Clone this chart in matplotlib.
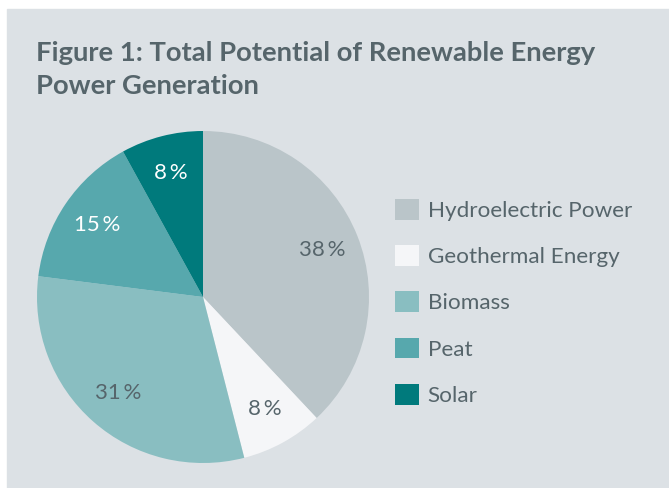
import matplotlib
matplotlib.use("Agg")
import matplotlib.pyplot as plt
from matplotlib.patches import Rectangle

labels = ["Hydroelectric Power", "Geothermal Energy", "Biomass", "Peat", "Solar"]
shares = [38, 8, 31, 15, 8]
colors = ["#bac5c9", "#f5f6f8", "#89bec1", "#57a8ad", "#007a7c"]
pct_colors = ["#56656b", "#56656b", "#56656b", "white", "white"]

TEXT = "#56656b"
PANEL = "#dce1e5"
plt.rcParams["font.family"] = ["Lato", "DejaVu Sans"]

W, H = 669, 488
fig = plt.figure(figsize=(W / 100, H / 100), dpi=100, facecolor="white")
fig.patches.append(Rectangle((7 / W, 0), 1 - 7 / W, 1 - 9 / H,
                             transform=fig.transFigure, color=PANEL, zorder=-5))

fig.text(36 / W, 1 - 41 / H, "Figure 1: Total Potential of Renewable Energy\nPower Generation",
         fontsize=19.7, fontweight="bold", color=TEXT, va="top", ha="left", linespacing=1.45)

# pie axes: centre (203, 297) px, radius 166 px
cx, cy, r = 203, 297, 166
ax = fig.add_axes([(cx - r) / W, (H - cy - r) / H, 2 * r / W, 2 * r / H])
wedges, _, autotexts = ax.pie(shares, colors=colors, startangle=90, counterclock=False,
                              autopct=lambda p: f"{p:.0f}\u2009%", pctdistance=0.77,
                              wedgeprops=dict(linewidth=0),
                              textprops=dict(fontsize=16))
for t, c in zip(autotexts, pct_colors):
    t.set_color(c)
ax.set_xlim(-1, 1)
ax.set_ylim(-1, 1)
ax.set_aspect("equal")

leg = fig.legend(wedges, labels, loc="upper left", bbox_to_anchor=(386 / W, 1 - 190 / H),
                 frameon=False, fontsize=16.2, labelcolor=TEXT,
                 handlelength=1.05, handleheight=1.05, handletextpad=0.4,
                 labelspacing=1.07, borderaxespad=0)

fig.savefig("out.png", dpi=100, facecolor="white")
